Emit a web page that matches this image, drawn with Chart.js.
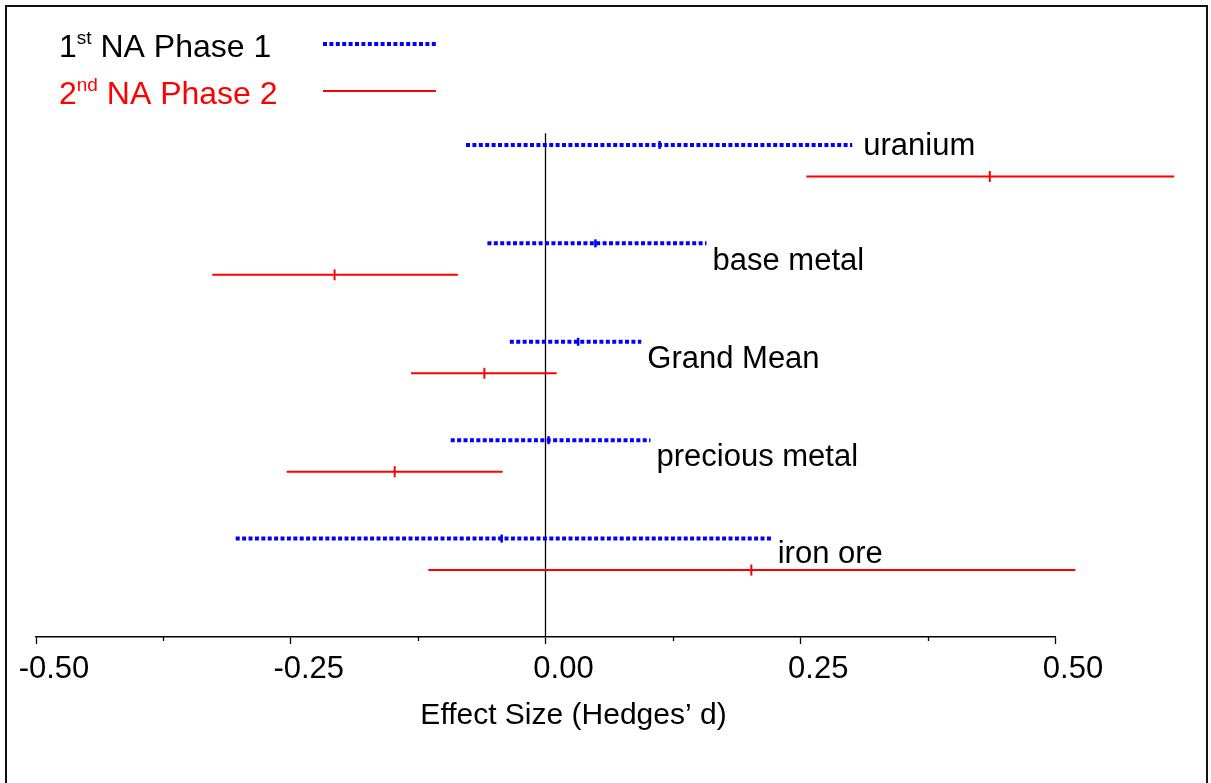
<!DOCTYPE html>
<html>
<head>
<meta charset="utf-8">
<script src="https://cdn.jsdelivr.net/npm/chart.js@4.4.1/dist/chart.umd.min.js"></script>
<style>
  html, body { margin: 0; padding: 0; background: #fff; overflow: hidden; }
  #wrap { position: relative; width: 1211px; height: 783px; }
  #frame { position: absolute; left: 5px; top: 5px; width: 1203px; height: 800px; border: 2px solid #111; box-sizing: border-box; pointer-events: none; }
</style>
</head>
<body>
<div id="wrap">
  <canvas id="chart" width="1211" height="783"></canvas>
  <div id="frame"></div>
</div>
<script>
// groups, top to bottom
const categories = ['uranium', 'base metal', 'Grand Mean', 'precious metal', 'iron ore'];

// 1st NA Phase 1 (blue dotted)
const phase1Low  = [-0.078, -0.057, -0.035, -0.093, -0.304];
const phase1Mean = [ 0.112,  0.049,  0.032,  0.003, -0.043];
const phase1High = [ 0.301,  0.158,  0.094,  0.103,  0.222];

// 2nd NA Phase 2 (red solid)
const phase2Low  = [ 0.256, -0.327, -0.132, -0.254, -0.115];
const phase2Mean = [ 0.436, -0.207, -0.060, -0.148,  0.202];
const phase2High = [ 0.617, -0.086,  0.011, -0.042,  0.520];

const tickValues = [-0.5, -0.375, -0.25, -0.125, 0, 0.125, 0.25, 0.375, 0.5];

const BLUE = '#0000ff';
const RED = '#ff0000';
const FONT = '"Liberation Sans", Arial, sans-serif';
const redOffset = 0.32;
const labelShift = [0, 0.5, 0.5, 0.5, 0.45];

function isMajor(v) {
    return Math.abs(v * 4 - Math.round(v * 4)) < 1e-6;
}

function intervalSets(lo, hi, offset, color, dash, width) {
    return categories.map((c, i) => ({
        data: [{x: lo[i], y: i + offset}, {x: hi[i], y: i + offset}],
        borderColor: color,
        borderWidth: width,
        borderDash: dash,
        borderCapStyle: 'butt',
        pointRadius: 0,
        showLine: true,
        fill: false,
        clip: false
    }));
}

function meanSet(mean, offset, color, radius, width) {
    return {
        data: mean.map((m, i) => ({x: m, y: i + offset})),
        showLine: false,
        pointStyle: 'line',
        rotation: 90,
        pointRadius: radius,
        borderColor: color,
        borderWidth: width,
        backgroundColor: color,
        clip: false
    };
}

const datasets = [
    ...intervalSets(phase1Low, phase1High, 0, BLUE, [4, 2.4], 4),
    ...intervalSets(phase2Low, phase2High, redOffset, RED, [], 2),
    meanSet(phase1Mean, 0, BLUE, 4, 2.5),
    meanSet(phase2Mean, redOffset, RED, 5.5, 2)
];

const extras = {
    id: 'extras',
    beforeDatasetsDraw(chart) {
        const ctx = chart.ctx;
        const x = chart.scales.x, y = chart.scales.y;
        // zero line
        const x0 = x.getPixelForValue(0);
        ctx.save();
        ctx.strokeStyle = '#000';
        ctx.lineWidth = 1.3;
        ctx.beginPath();
        ctx.moveTo(x0, y.getPixelForValue(-0.12));
        ctx.lineTo(x0, chart.chartArea.bottom);
        ctx.stroke();
        ctx.restore();
    },
    afterDraw(chart) {
        const ctx = chart.ctx;
        const x = chart.scales.x, y = chart.scales.y;
        const area = chart.chartArea;
        ctx.save();
        // minor ticks
        ctx.strokeStyle = '#000';
        ctx.lineWidth = 1.3;
        tickValues.forEach(v => {
            if (!isMajor(v)) {
                const px = Math.round(x.getPixelForValue(v)) + 0.5;
                ctx.beginPath();
                ctx.moveTo(px, area.bottom);
                ctx.lineTo(px, area.bottom + 4);
                ctx.stroke();
            }
        });
        // category labels
        ctx.fillStyle = '#000';
        ctx.font = '31px ' + FONT;
        ctx.textBaseline = 'middle';
        ctx.textAlign = 'left';
        categories.forEach((c, i) => {
            const px = x.getPixelForValue(phase1High[i]) + (i === 0 ? 11 : 6);
            const py = y.getPixelForValue(i + labelShift[i] * redOffset) + 2;
            ctx.fillText(c, px, py);
        });
        // axis title
        ctx.font = '30px ' + FONT;
        ctx.textAlign = 'center';
        ctx.textBaseline = 'alphabetic';
        ctx.fillText('Effect Size (Hedges\u2019 d)', (area.left + area.right) / 2 + 28, 724);
        // legend
        const rows = [
            {num: '1', sup: 'st', text: ' NA Phase 1', color: '#000', line: BLUE, dash: [4, 2.4], w: 4, base: 57, ly: 44},
            {num: '2', sup: 'nd', text: ' NA Phase 2', color: RED, line: RED, dash: [], w: 2, base: 104, ly: 91}
        ];
        ctx.textAlign = 'left';
        rows.forEach(r => {
            let px = 59;
            ctx.fillStyle = r.color;
            ctx.font = '32px ' + FONT;
            ctx.fillText(r.num, px, r.base);
            px += ctx.measureText(r.num).width;
            ctx.font = '19px ' + FONT;
            ctx.fillText(r.sup, px, r.base - 13);
            px += ctx.measureText(r.sup).width;
            ctx.font = '32px ' + FONT;
            ctx.fillText(r.text, px, r.base);
            ctx.strokeStyle = r.line;
            ctx.lineWidth = r.w;
            ctx.setLineDash(r.dash);
            ctx.beginPath();
            ctx.moveTo(323, r.ly);
            ctx.lineTo(436, r.ly);
            ctx.stroke();
            ctx.setLineDash([]);
        });
        ctx.restore();
    }
};

const ctx = document.getElementById('chart').getContext('2d');
const chart = new Chart(ctx, {
    type: 'scatter',
    data: { datasets: datasets },
    options: {
        responsive: false,
        animation: false,
        layout: { padding: { left: 36, right: 156, top: 17, bottom: 0 } },
        plugins: { legend: { display: false }, tooltip: { enabled: false } },
        scales: {
            x: {
                type: 'linear',
                min: -0.5,
                max: 0.5,
                afterBuildTicks: s => { s.ticks = tickValues.map(v => ({value: v})); },
                afterFit: s => { s.height = 146; s.paddingLeft = 0; s.paddingRight = 0; },
                grid: {
                    drawOnChartArea: false,
                    drawTicks: true,
                    tickLength: 7,
                    tickWidth: 1.3,
                    tickColor: c => (isMajor(c.tick.value) ? '#000' : 'rgba(0,0,0,0)')
                },
                border: { color: '#000', width: 1.5 },
                ticks: {
                    autoSkip: false,
                    maxRotation: 0,
                    padding: 7,
                    labelOffset: 18,
                    color: '#000',
                    font: { family: FONT, size: 31 },
                    callback: v => (isMajor(v) ? v.toFixed(2) : '')
                }
            },
            y: {
                type: 'linear',
                display: false,
                reverse: true,
                min: -1.3,
                max: 5.0
            }
        }
    },
    plugins: [extras]
});
</script>
</body>
</html>
